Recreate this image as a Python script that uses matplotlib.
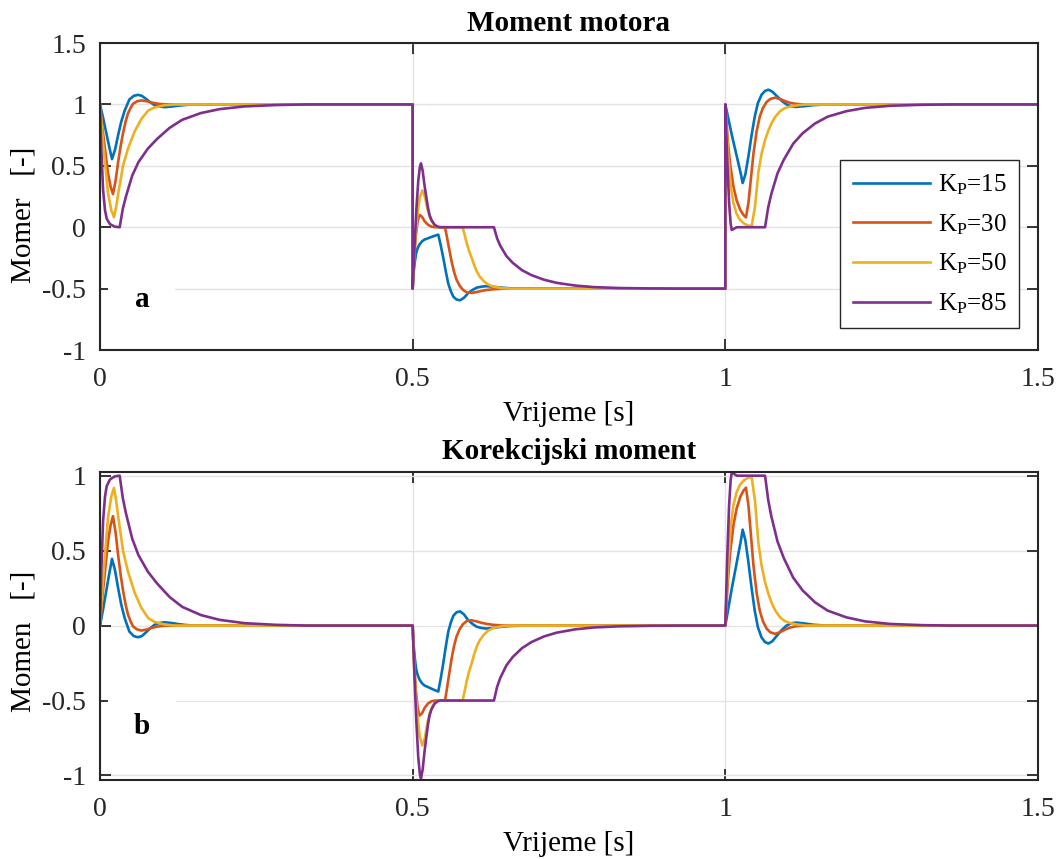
import matplotlib
matplotlib.use('Agg')
import matplotlib.pyplot as plt

plt.rcParams['font.family'] = ['Liberation Serif', 'DejaVu Serif']
plt.rcParams['mathtext.fontset'] = 'custom'
plt.rcParams['mathtext.rm'] = 'Liberation Serif'
plt.rcParams['mathtext.it'] = 'Liberation Serif:italic'
plt.rcParams['axes.unicode_minus'] = False

# ---- data ----
kp_labels = [r'K$_\mathrm{P}$=15', r'K$_\mathrm{P}$=30', r'K$_\mathrm{P}$=50', r'K$_\mathrm{P}$=85']
colors = ['#0072BD', '#D95319', '#EDB120', '#7E2F8E']

# Kp = 15
t_15 = [0, 0.005, 0.010, 0.015, 0.0192, 0.024, 0.029, 0.034, 0.0395, 0.047, 0.054, 0.0608, 0.067, 0.0736, 0.080, 0.087, 0.095, 0.1035, 0.115, 0.125, 0.137, 0.150, 0.5,
        0.5, 0.5013, 0.5035, 0.5056, 0.508, 0.511, 0.515, 0.519, 0.5245, 0.5295, 0.535, 0.541, 0.545, 0.549, 0.553, 0.557, 0.561, 0.565, 0.570, 0.5757, 0.582, 0.589, 0.596, 0.6025, 0.610, 0.618, 0.628, 0.640, 0.655, 0.675, 1.0,
        1.0, 1.005, 1.010, 1.015, 1.020, 1.025, 1.0277, 1.032, 1.037, 1.042, 1.047, 1.052, 1.058, 1.0635, 1.0688, 1.075, 1.082, 1.09, 1.098, 1.105, 1.113, 1.125, 1.14, 1.16, 1.5]
motor_15 = [1, 0.89, 0.77, 0.65, 0.555, 0.63, 0.75, 0.86, 0.95, 1.04, 1.07, 1.078, 1.07, 1.045, 1.02, 0.995, 0.983, 0.978, 0.983, 0.99, 0.996, 1, 1,
            -0.5, -0.38, -0.28, -0.21, -0.17, -0.14, -0.115, -0.10, -0.09, -0.08, -0.07, -0.06, -0.15, -0.25, -0.36, -0.46, -0.52, -0.565, -0.588, -0.595, -0.575, -0.535, -0.51, -0.492, -0.484, -0.48, -0.484, -0.491, -0.497, -0.5, -0.5,
            1, 0.88, 0.76, 0.65, 0.54, 0.43, 0.36, 0.43, 0.58, 0.75, 0.90, 1.01, 1.08, 1.11, 1.12, 1.105, 1.07, 1.03, 1.0, 0.985, 0.98, 0.985, 0.994, 1, 1]
corr_15 = [0, 0.11, 0.23, 0.35, 0.445, 0.37, 0.25, 0.14, 0.05, -0.04, -0.07, -0.078, -0.07, -0.045, -0.02, 0.005, 0.017, 0.022, 0.017, 0.01, 0.004, 0, 0,
           0, -0.12, -0.22, -0.29, -0.33, -0.36, -0.385, -0.40, -0.41, -0.42, -0.43, -0.44, -0.35, -0.25, -0.14, -0.04, 0.02, 0.065, 0.088, 0.095, 0.075, 0.035, 0.01, -0.008, -0.016, -0.02, -0.016, -0.009, -0.003, 0, 0,
           0, 0.12, 0.24, 0.35, 0.46, 0.57, 0.64, 0.57, 0.42, 0.25, 0.10, -0.01, -0.08, -0.11, -0.12, -0.105, -0.07, -0.03, 0, 0.015, 0.02, 0.015, 0.006, 0, 0]

# Kp = 30
t_30 = [0, 0.004, 0.0075, 0.0128, 0.017, 0.0208, 0.025, 0.029, 0.033, 0.037, 0.041, 0.0448, 0.0488, 0.0528, 0.059, 0.066, 0.074, 0.082, 0.090, 0.098, 0.11, 0.5,
        0.5, 0.5025, 0.505, 0.508, 0.511, 0.515, 0.519, 0.5245, 0.530, 0.536, 0.5517, 0.5545, 0.557, 0.5597, 0.5623, 0.566, 0.570, 0.575, 0.5805, 0.587, 0.5945, 0.602, 0.6104, 0.620, 0.629, 0.645, 1.0,
        1.0, 1.004, 1.008, 1.013, 1.018, 1.024, 1.029, 1.033, 1.037, 1.041, 1.045, 1.050, 1.055, 1.060, 1.066, 1.072, 1.0795, 1.087, 1.095, 1.103, 1.112, 1.125, 1.5]
motor_30 = [1, 0.80, 0.66, 0.44, 0.33, 0.27, 0.38, 0.53, 0.66, 0.77, 0.86, 0.927, 0.97, 1.005, 1.025, 1.033, 1.027, 1.016, 1.008, 1.003, 1, 1,
            -0.5, -0.25, -0.07, 0.05, 0.10, 0.085, 0.05, 0.02, 0.005, 0, 0, -0.07, -0.14, -0.21, -0.28, -0.36, -0.425, -0.475, -0.51, -0.532, -0.535, -0.528, -0.518, -0.51, -0.505, -0.5, -0.5,
            1, 0.70, 0.50, 0.33, 0.22, 0.14, 0.10, 0.08, 0.20, 0.40, 0.60, 0.78, 0.90, 0.97, 1.02, 1.045, 1.055, 1.045, 1.028, 1.014, 1.005, 1, 1]
corr_30 = [0, 0.20, 0.34, 0.56, 0.67, 0.73, 0.62, 0.47, 0.34, 0.23, 0.14, 0.073, 0.03, -0.005, -0.025, -0.033, -0.027, -0.016, -0.008, -0.003, 0, 0,
           0, -0.25, -0.43, -0.55, -0.60, -0.585, -0.55, -0.52, -0.505, -0.5, -0.5, -0.43, -0.36, -0.29, -0.22, -0.14, -0.075, -0.025, 0.01, 0.032, 0.035, 0.028, 0.018, 0.01, 0.005, 0, 0,
           0, 0.30, 0.50, 0.67, 0.78, 0.86, 0.90, 0.92, 0.80, 0.60, 0.40, 0.22, 0.10, 0.03, -0.02, -0.045, -0.055, -0.045, -0.028, -0.014, -0.005, 0, 0]

# Kp = 50
t_50 = [0, 0.003, 0.0075, 0.0128, 0.018, 0.0224, 0.026, 0.030, 0.034, 0.0368, 0.0448, 0.0554, 0.066, 0.077, 0.087, 0.103, 0.12, 0.5,
        0.5, 0.503, 0.507, 0.5113, 0.5155, 0.5195, 0.5236, 0.5276, 0.5316, 0.536, 0.541, 0.580, 0.583, 0.5865, 0.590, 0.5945, 0.5985, 0.6025, 0.607, 0.613, 0.620, 0.629, 0.642, 0.656, 1.0,
        1.0, 1.0025, 1.005, 1.0085, 1.0128, 1.018, 1.0235, 1.030, 1.036, 1.0422, 1.0475, 1.0529, 1.058, 1.0635, 1.069, 1.0742, 1.080, 1.0875, 1.095, 1.1035, 1.115, 1.13, 1.5]
motor_50 = [1, 0.80, 0.55, 0.28, 0.14, 0.082, 0.17, 0.30, 0.415, 0.50, 0.64, 0.78, 0.88, 0.95, 0.975, 0.993, 1, 1,
            -0.5, -0.18, 0.08, 0.24, 0.30, 0.25, 0.15, 0.08, 0.04, 0.015, 0, 0, -0.06, -0.13, -0.19, -0.25, -0.31, -0.36, -0.40, -0.435, -0.465, -0.484, -0.495, -0.5, -0.5,
            1, 0.75, 0.55, 0.34, 0.20, 0.11, 0.06, 0.03, 0.015, 0.01, 0.17, 0.45, 0.60, 0.71, 0.79, 0.85, 0.90, 0.945, 0.97, 0.983, 0.993, 1, 1]
corr_50 = [0, 0.20, 0.45, 0.72, 0.86, 0.918, 0.83, 0.70, 0.585, 0.50, 0.36, 0.22, 0.12, 0.05, 0.025, 0.007, 0, 0,
           0, -0.32, -0.58, -0.74, -0.80, -0.75, -0.65, -0.58, -0.54, -0.515, -0.5, -0.5, -0.44, -0.37, -0.31, -0.25, -0.19, -0.14, -0.10, -0.065, -0.035, -0.016, -0.005, 0, 0,
           0, 0.25, 0.45, 0.66, 0.80, 0.89, 0.94, 0.97, 0.985, 0.99, 0.83, 0.55, 0.40, 0.29, 0.21, 0.15, 0.10, 0.055, 0.03, 0.017, 0.007, 0, 0]

# Kp = 85
t_85 = [0, 0.002, 0.005, 0.008, 0.0107, 0.016, 0.0235, 0.0315, 0.0365, 0.0415, 0.0515, 0.0615, 0.0765, 0.0915, 0.1115, 0.1315, 0.1615, 0.1915, 0.2315, 0.2815, 0.33, 0.5,
        0.5, 0.503, 0.506, 0.509, 0.5115, 0.5133, 0.516, 0.519, 0.522, 0.5245, 0.527, 0.530, 0.535, 0.540, 0.5437, 0.630, 0.635, 0.640, 0.650, 0.660, 0.675, 0.690, 0.710, 0.730, 0.760, 0.790, 0.830, 0.880, 0.93, 1.0,
        1.0, 1.003, 1.006, 1.0085, 1.0102, 1.013, 1.0182, 1.0635, 1.0685, 1.0735, 1.0835, 1.0935, 1.1085, 1.1235, 1.1435, 1.1635, 1.1935, 1.2235, 1.2635, 1.3135, 1.36, 1.5]
motor_85 = [1, 0.65, 0.30, 0.14, 0.07, 0.025, 0.005, 0, 0.15, 0.25, 0.42, 0.53, 0.64, 0.72, 0.81, 0.875, 0.93, 0.962, 0.984, 0.995, 1, 1,
            -0.5, -0.15, 0.15, 0.38, 0.49, 0.52, 0.46, 0.34, 0.24, 0.16, 0.10, 0.06, 0.02, 0.005, 0, 0, -0.09, -0.15, -0.235, -0.29, -0.35, -0.39, -0.4275, -0.4525, -0.475, -0.4875, -0.495, -0.4985, -0.5, -0.5,
            1, 0.55, 0.20, 0.03, -0.022, -0.015, 0, 0, 0.16, 0.27, 0.44, 0.55, 0.68, 0.765, 0.845, 0.90, 0.945, 0.972, 0.989, 0.997, 1, 1]
corr_85 = [0, 0.35, 0.70, 0.86, 0.93, 0.975, 0.995, 1.0, 0.85, 0.75, 0.58, 0.47, 0.36, 0.28, 0.19, 0.125, 0.07, 0.038, 0.016, 0.005, 0, 0,
           0, -0.35, -0.65, -0.88, -0.99, -1.02, -0.96, -0.84, -0.74, -0.66, -0.60, -0.56, -0.52, -0.505, -0.5, -0.5, -0.41, -0.35, -0.265, -0.21, -0.15, -0.11, -0.0725, -0.0475, -0.025, -0.0125, -0.005, -0.0015, 0, 0,
           0, 0.45, 0.80, 0.97, 1.022, 1.015, 1.0, 1.0, 0.84, 0.73, 0.56, 0.45, 0.32, 0.235, 0.155, 0.10, 0.055, 0.028, 0.011, 0.003, 0, 0]

times = [t_15, t_30, t_50, t_85]
motor = [motor_15, motor_30, motor_50, motor_85]
corr = [corr_15, corr_30, corr_50, corr_85]

x_ticks = [0, 0.5, 1, 1.5]
x_ticklabels = ['0', '0.5', '1', '1.5']
y1_ticks = [-1, -0.5, 0, 0.5, 1, 1.5]
y1_ticklabels = ['-1', '-0.5', '0', '0.5', '1', '1.5']
y2_ticks = [-1, -0.5, 0, 0.5, 1]
y2_ticklabels = ['-1', '-0.5', '0', '0.5', '1']

axcol = '#262626'

fig = plt.figure(figsize=(10.58, 8.59), dpi=100)
ax1 = fig.add_axes([0.0945, 0.5925, 0.8866, 0.3574])
ax2 = fig.add_axes([0.0945, 0.092, 0.8866, 0.3586])


def style(ax, yticks, ylabels, ylim, title, ylab, lab_y, letter, letter_y):
    ax.set_xlim(0, 1.5)
    ax.set_ylim(*ylim)
    ax.set_xticks(x_ticks)
    ax.set_xticklabels(x_ticklabels)
    ax.set_yticks(yticks)
    ax.set_yticklabels(ylabels)
    ax.grid(True, color='#e3e3e3', linewidth=1.0)
    ax.set_axisbelow(True)
    ax.tick_params(direction='in', length=8, width=1.3, top=True, right=True,
                   labelsize=20, colors=axcol, pad=12)
    ax.tick_params(axis='y', pad=10)
    for s in ax.spines.values():
        s.set_linewidth(1.5)
        s.set_color(axcol)
    ax.set_title(title, fontweight='bold', fontsize=21, pad=9)
    ax.set_xlabel('Vrijeme [s]', fontsize=21, labelpad=7)
    ax.set_ylabel(ylab, fontsize=21)
    ax.yaxis.set_label_coords(-0.068, lab_y)
    ax.text(0.067, letter_y, letter, fontsize=21, fontweight='bold', ha='center', va='center',
            zorder=5, bbox=dict(facecolor='white', edgecolor='none', pad=19))


for t, m, c, col, lab in zip(times, motor, corr, colors, kp_labels):
    ax1.plot(t, m, color=col, lw=1.9, label=lab)
    ax2.plot(t, c, color=col, lw=1.9, label=lab)

style(ax1, y1_ticks, y1_ticklabels, (-1, 1.5), 'Moment motora', 'Momer   [-]', 0.44, 'a', -0.59)
style(ax2, y2_ticks, y2_ticklabels, (-1.03, 1.025), 'Korekcijski moment', 'Momen   [-]', 0.45, 'b', -0.67)

leg = ax1.legend(loc='upper right', bbox_to_anchor=(1019 / 1058, 1 - 160 / 859),
                 bbox_transform=fig.transFigure, borderaxespad=0, fontsize=18,
                 fancybox=False, framealpha=1, edgecolor=axcol, handlelength=3.1,
                 handletextpad=0.3, labelspacing=0.6, borderpad=0.5)
leg.get_frame().set_linewidth(1.0)

fig.savefig('out.png', dpi=100)
